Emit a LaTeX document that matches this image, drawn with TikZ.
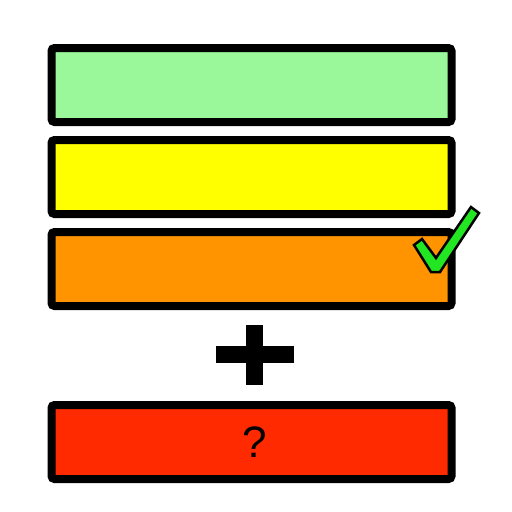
\documentclass[tikz,border=0pt]{standalone}
\usepackage{fontspec}
\setmainfont{Liberation Sans}
\usepackage{xcolor}
\definecolor{levelGreen}{HTML}{9AF89A}
\definecolor{levelYellow}{HTML}{FFFF00}
\definecolor{levelOrange}{HTML}{FF9400}
\definecolor{levelRed}{HTML}{FF2A00}
\definecolor{tickGreen}{HTML}{22E622}
\usetikzlibrary{positioning}

\begin{document}
\begin{tikzpicture}[
    x=1pt, y=-1pt,
    levelBox/.style={draw=black, rounded corners=3pt, minimum width=400pt, minimum height=74pt, line width=8pt, inner sep=0pt, font=\fontsize{44}{46}\selectfont},
    tickMark/.style={fill=tickGreen, draw=black, line width=2.5pt, line join=miter}
]
\useasboundingbox (0,0) rectangle (512,512);

% Stacked level bars
\node[levelBox, fill=levelGreen] (lvlGreen) at (251.5,85) {};
\node[levelBox, fill=levelYellow, below=10pt of lvlGreen] (lvlYellow) {};
\node[levelBox, fill=levelOrange, below=10pt of lvlYellow] (lvlOrange) {};

% Unknown level at the bottom
\node[levelBox, fill=levelRed] (lvlRed) at (251.5,442) {\hspace*{6pt}?};

% Plus sign between
\fill[black] (216,346) rectangle (294,363);
\fill[black] (246,325) rectangle (263,385);

% Check mark on the orange bar
\filldraw[tickMark] (414,245) -- (422,239) -- (436,258) -- (471,207) -- (479,213) -- (440,272) -- (431,272) -- cycle;

\end{tikzpicture}
\end{document}
